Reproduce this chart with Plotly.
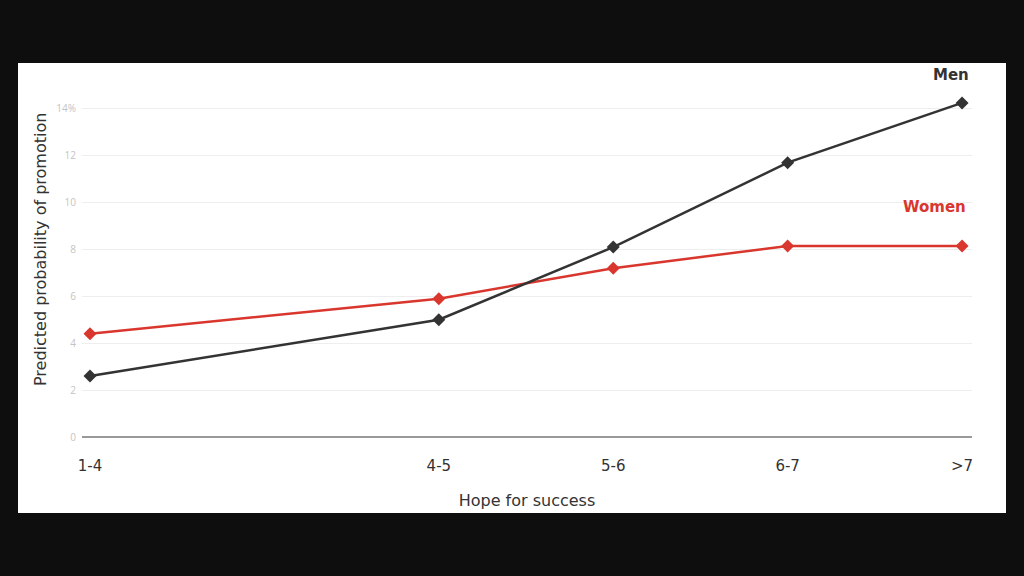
import plotly.graph_objects as go

# Hope-for-success bins and their numeric midpoints (used as x positions)
categories = ["1-4", "4-5", "5-6", "6-7", ">7"]
bin_mid = [2.5, 4.5, 5.5, 6.5, 7.5]

men = [2.6, 5.0, 8.1, 11.7, 14.25]
women = [4.4, 5.9, 7.2, 8.15, 8.15]

y_ticks = [0, 2, 4, 6, 8, 10, 12, 14]
y_ticktext = ["0", "2", "4", "6", "8", "10", "12", "14%"]

MEN_C = "#333333"
WOMEN_C = "#d9362d"

fig = go.Figure()
fig.add_trace(go.Scatter(
    x=bin_mid, y=women, mode="lines+markers", name="Women",
    line=dict(color=WOMEN_C, width=2.5),
    marker=dict(symbol="diamond", size=10, color=WOMEN_C),
))
fig.add_trace(go.Scatter(
    x=bin_mid, y=men, mode="lines+markers", name="Men",
    line=dict(color=MEN_C, width=2.5),
    marker=dict(symbol="diamond", size=10, color=MEN_C),
))

# white card over black background
fig.add_shape(type="rect", xref="paper", yref="paper",
              x0=(18 - 82) / 890, x1=(1006 - 82) / 890,
              y0=(437 - 513) / 347, y1=(437 - 63) / 347,
              fillcolor="white", line=dict(width=0), layer="below")

fig.add_annotation(x=bin_mid[-1], y=men[-1], xref="x", yref="y",
                   text="<b>Men</b>", showarrow=False, xanchor="right",
                   yanchor="bottom", xshift=9, yshift=17,
                   font=dict(family="DejaVu Sans", size=15, color=MEN_C))
fig.add_annotation(x=bin_mid[-1], y=women[-1], xref="x", yref="y",
                   text="<b>Women</b>", showarrow=False, xanchor="right",
                   yanchor="bottom", xshift=6, yshift=28,
                   font=dict(family="DejaVu Sans", size=15, color=WOMEN_C))

fig.add_annotation(x=(40 - 82) / 890, y=(437 - 250) / 347, xref="paper", yref="paper",
                   text="Predicted probability of promotion", textangle=-90,
                   showarrow=False, xanchor="center", yanchor="middle",
                   font=dict(family="DejaVu Sans", size=16, color="#333333"))

fig.update_layout(
    width=1024, height=576,
    paper_bgcolor="#0e0e0e", plot_bgcolor="white",
    margin=dict(l=82, r=52, t=90, b=139),
    showlegend=False,
    font=dict(family="DejaVu Sans"),
)
fig.update_xaxes(
    range=[2.454, 7.557], tickvals=bin_mid, ticktext=categories,
    showgrid=False, zeroline=False, showline=False,
    ticks="", ticklabelstandoff=18,
    tickfont=dict(family="DejaVu Sans", size=15, color="#333333"),
    title=dict(text="Hope for success", standoff=20,
               font=dict(family="DejaVu Sans", size=16, color="#333333")),
)
fig.update_yaxes(
    range=[0, 14.8], tickvals=y_ticks, ticktext=y_ticktext,
    showgrid=True, gridcolor="#eeeeee", gridwidth=1,
    zeroline=True, zerolinecolor="#999999", zerolinewidth=2,
    showline=False, ticks="", ticklabelstandoff=5,
    tickfont=dict(family="Open Sans", size=10, color="#c4c4c4"),
)

fig.write_html(
    "out.html",
    config={"displayModeBar": False},
    post_script="document.body.style.margin='0';document.body.style.background='#0e0e0e';",
)
